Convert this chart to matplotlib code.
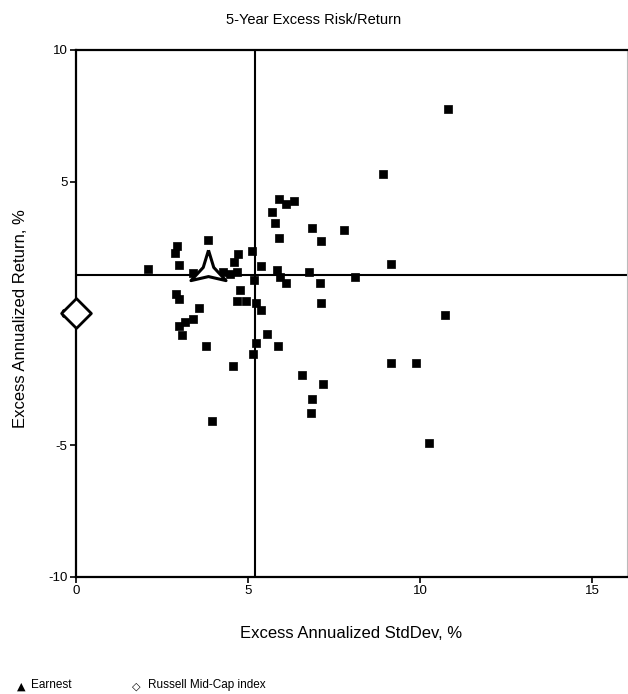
import matplotlib
matplotlib.use("Agg")
import matplotlib.pyplot as plt
import numpy as np

plt.rcParams['font.family'] = ['Liberation Sans', 'DejaVu Sans']
plt.rcParams['axes.unicode_minus'] = False

# Peer managers: excess annualized std dev (%) and excess annualized return (%)
peer_std = [10.82, 8.92, 5.89, 6.10, 6.34, 5.68, 5.78, 5.89, 6.86, 7.79,
            7.13, 3.84, 2.94, 2.89, 4.71, 5.12, 2.08, 3.00, 4.59, 5.37,
            3.41, 4.28, 4.47, 4.67, 5.84, 5.92, 6.11, 6.77, 7.08, 8.10,
            9.14, 5.17, 4.76, 2.90, 3.00, 4.67, 4.94, 5.24, 5.37, 7.13,
            3.58, 3.41, 3.16, 3.00, 3.07, 5.54, 5.24, 5.86, 3.77, 5.13,
            4.55, 6.56, 7.18, 6.87, 6.83, 3.94, 9.14, 9.89, 10.26, 10.72]
peer_ret = [7.76, 5.28, 4.33, 4.14, 4.25, 3.85, 3.43, 2.88, 3.23, 3.16,
            2.74, 2.80, 2.55, 2.31, 2.27, 2.38, 1.70, 1.85, 1.95, 1.79,
            1.54, 1.57, 1.51, 1.57, 1.64, 1.38, 1.17, 1.58, 1.17, 1.37,
            1.87, 1.26, 0.91, 0.73, 0.54, 0.47, 0.47, 0.41, 0.14, 0.41,
            0.21, -0.22, -0.32, -0.49, -0.83, -0.76, -1.11, -1.24, -1.24, -1.53,
            -2.00, -2.34, -2.69, -3.23, -3.78, -4.08, -1.88, -1.88, -4.93, -0.07]

earnest = (3.83, 1.64)
russell = (0.0, 0.0)
median_std = 5.20
median_ret = 1.45

xticks = [0, 5, 10, 15]
yticks = [-10, -5, 0, 5, 10]

# thin three-pointed star marker
ang_out = np.deg2rad([90, 210, 330])
ang_in = ang_out + np.deg2rad(60)
star = []
for ao, ai in zip(ang_out, ang_in):
    star.append((np.cos(ao), np.sin(ao)))
    star.append((0.3 * np.cos(ai), 0.3 * np.sin(ai)))
star.append(star[0])

fig = plt.figure(figsize=(6.28, 6.94), dpi=100)
ax = fig.add_axes([0.121, 0.1686, 0.877, 0.7594])

ax.axvline(median_std, color='black', lw=1.5, zorder=1)
ax.axhline(median_ret, color='black', lw=1.5, zorder=1)

ax.scatter(peer_std, peer_ret, marker='s', s=40, color='black',
           edgecolors='black', linewidths=0.5, zorder=3)
ax.scatter([earnest[0]], [earnest[1]], marker=star, s=850,
           facecolor='white', edgecolors='black', linewidths=2.2, zorder=4)
ax.scatter([russell[0]], [russell[1]], marker='D', s=230,
           facecolor='white', edgecolors='black', linewidths=2.0, zorder=5,
           clip_on=False)

ax.set_xlim(0, 16)
ax.set_ylim(-10, 10)
ax.set_xticks(xticks)
ax.set_yticks(yticks)
ax.tick_params(direction='out', length=4, width=1.2, labelsize=9.5, pad=2)

for side in ['left', 'top', 'bottom']:
    ax.spines[side].set_linewidth(1.6)
ax.spines['right'].set_linewidth(0.8)
ax.spines['right'].set_color('#bbbbbb')

ax.set_xlabel('Excess Annualized StdDev, %', fontsize=12)
ax.set_ylabel('Excess Annualized Return, %', fontsize=12)
ax.xaxis.set_label_coords(0.5, -0.093)
ax.yaxis.set_label_coords(-0.087, 0.49)
fig.text(0.5, 0.971, '5-Year Excess Risk/Return', ha='center', va='center',
         fontsize=10.5)

fig.text(0.027, 0.004, '\u25B2', fontsize=8, ha='left', va='bottom',
         family=['DejaVu Sans'])
fig.text(0.05, 0.004, 'Earnest', fontsize=8.5, ha='left', va='bottom')
fig.text(0.21, 0.004, '\u25C7', fontsize=8, ha='left', va='bottom',
         family=['DejaVu Sans'], fontweight='bold')
fig.text(0.235, 0.004, 'Russell Mid-Cap index', fontsize=8.5, ha='left',
         va='bottom')

fig.savefig('out.png', dpi=100)
